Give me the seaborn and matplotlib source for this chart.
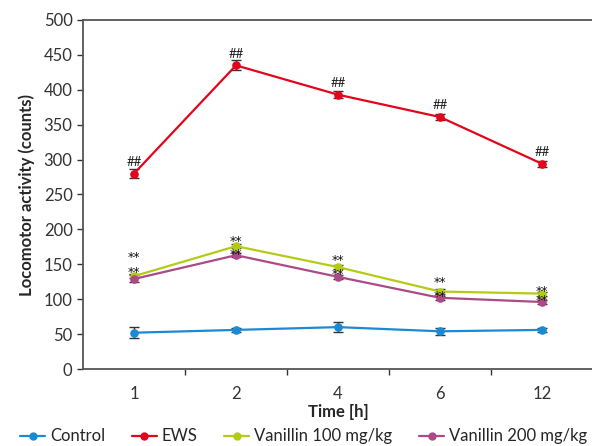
import numpy as np
import pandas as pd
import matplotlib
matplotlib.use("Agg")
import matplotlib.pyplot as plt
from matplotlib.lines import Line2D
import seaborn as sns

times = ["1", "2", "4", "6", "12"]
groups = ["Control", "EWS", "Vanillin 100 mg/kg", "Vanillin 200 mg/kg"]
control = [52, 56, 60, 54, 56]
ews = [280, 435, 393, 361, 294]
van100 = [133, 176, 146, 111, 108]
van200 = [129, 163, 132, 102, 96]
control_err = [8, 3, 7, 5, 3]
ews_err = [6, 7, 5, 4, 4]
van100_err = [3, 3, 3, 3, 3]
van200_err = [5, 3, 3, 3, 3]
ews_marks = ["##", "##", "##", "##", "##"]
van100_marks = ["**", "**", "**", "**", "**"]
van200_marks = ["**", "**", "**", "**", "**"]

colors = {"Control": "#1a8ad4", "EWS": "#e3051b",
          "Vanillin 100 mg/kg": "#b5ca17", "Vanillin 200 mg/kg": "#ab4a86"}

values = {"Control": control, "EWS": ews,
          "Vanillin 100 mg/kg": van100, "Vanillin 200 mg/kg": van200}
errors = {"Control": control_err, "EWS": ews_err,
          "Vanillin 100 mg/kg": van100_err, "Vanillin 200 mg/kg": van200_err}

rows = []
for g in groups:
    for t, v in zip(times, values[g]):
        rows.append({"Time": t, "Group": g, "Value": v})
df = pd.DataFrame(rows)

sns.set_theme(style="white")
plt.rcParams["font.family"] = ["Lato", "DejaVu Sans"]

fig = plt.figure(figsize=(5.92, 4.46), dpi=100)
ax = fig.add_axes([83/592, 1 - 369/446, (593 - 83)/592, (369 - 20)/446])

sns.pointplot(data=df, x="Time", y="Value", hue="Group", order=times,
              hue_order=groups, palette=colors, errorbar=None,
              markers="o", markersize=5, linewidth=1.6, ax=ax, legend=False)

pos = np.arange(len(times))
for g in groups:
    ax.errorbar(pos, values[g], yerr=errors[g], fmt="none", ecolor="#333333",
                elinewidth=1.0, capsize=3.5, capthick=1.0, zorder=1)

# annotation offsets (points, baseline relative to the point)
ews_off = [5.5, 5.5, 5.5, 5.5, 5.5]
v100_off = [10.8, 0.7, 2.2, 4.3, -0.7]
v200_off = [2.2, -2.2, -0.7, -1.4, -1.4]
for i in range(len(times)):
    ax.annotate(ews_marks[i], (pos[i], ews[i]), xytext=(0, ews_off[i]),
                textcoords="offset points", ha="center", va="baseline",
                fontsize=9.5, color="#222222")
    ax.annotate(van100_marks[i], (pos[i], van100[i]), xytext=(0, v100_off[i]),
                textcoords="offset points", ha="center", va="baseline",
                fontsize=9, family="DejaVu Sans", color="#111111")
    ax.annotate(van200_marks[i], (pos[i], van200[i]), xytext=(0, v200_off[i]),
                textcoords="offset points", ha="center", va="baseline",
                fontsize=9, family="DejaVu Sans", color="#111111")

ax.set_xlim(-0.5, len(times) - 0.5)
ax.set_ylim(0, 500)
ax.set_yticks(np.arange(0, 501, 50))
ax.set_xticks(pos)
ax.set_xticklabels(times)
ax.set_xticks(np.arange(0.5, len(times) - 0.5, 1), minor=True)
ax.tick_params(axis="x", which="major", length=0, labelsize=12, pad=12,
               colors="#333333")
ax.tick_params(axis="x", which="minor", length=4, width=1.0,
               direction="out", color="#333333", bottom=True)
ax.tick_params(axis="y", length=4, width=1.0, direction="out",
               labelsize=12, colors="#333333", left=True)
ax.set_xlabel("Time [h]", fontsize=12, fontweight="bold", labelpad=1.5)
ax.set_ylabel("Locomotor activity (counts)", fontsize=12, fontweight="bold",
              labelpad=6)

for s in ["left", "bottom", "top"]:
    ax.spines[s].set_color("#555555")
    ax.spines[s].set_linewidth(1.3)
ax.spines["right"].set_visible(False)

handles = [Line2D([0], [0], color=colors[g], marker="o", markersize=5,
                  linewidth=1.6) for g in groups]
fig.legend(handles, groups, loc="lower center", bbox_to_anchor=(0.513, -0.03),
           ncol=4, frameon=False, fontsize=12, handlelength=1.5,
           handletextpad=0.3, columnspacing=1.6)

fig.savefig("out.png", dpi=100)
